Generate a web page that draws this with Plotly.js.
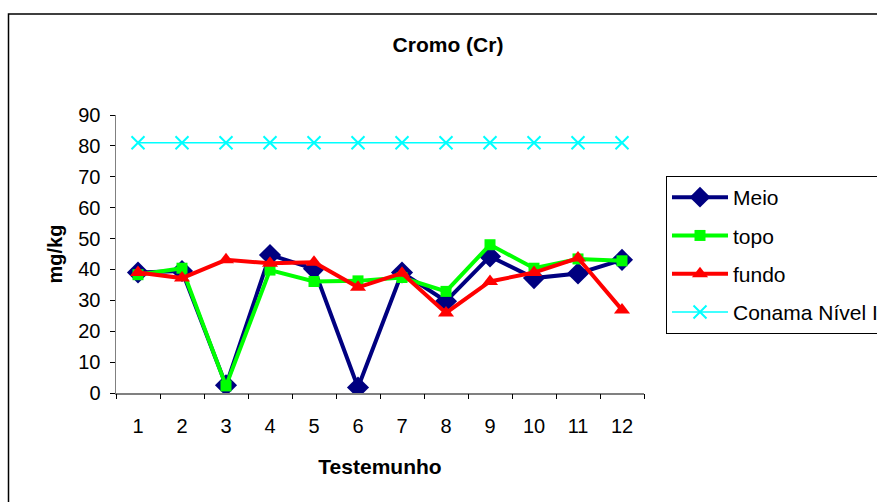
<!DOCTYPE html>
<html>
<head>
<meta charset="utf-8">
<script src="https://cdn.plot.ly/plotly-3.0.1.min.js"></script>
<style>html,body{margin:0;padding:0;background:#fff;}#chart{width:877px;height:502px;}</style>
</head>
<body>
<div id="chart"></div>
<script>
const categories = [1,2,3,4,5,6,7,8,9,10,11,12];
const meio   = [39, 39.5, 2.5, 44.7, 40.2, 1.8, 39, 29.7, 44.2, 37.2, 38.7, 43.1];
const topo   = [38.3, 40.4, 2.3, 39.8, 36.1, 36.3, 37.4, 32.9, 48, 40.4, 43.4, 42.8];
const fundo  = [39, 37.2, 43.1, 42, 42.3, 34.2, 38.8, 25.9, 36.1, 39, 43.7, 26.9];
const conama = [81, 81, 81, 81, 81, 81, 81, 81, 81, 81, 81, 81];
const yTicks = [0,10,20,30,40,50,60,70,80,90];

const L = 116, R = 644, T = 115, B = 393, W = 877, H = 502;
const pw = R - L, ph = B - T;

const traces = [
  {x: categories, y: meio, name: 'Meio', type: 'scatter', mode: 'lines+markers', legendgroup: 'a',
   line: {color: '#000080', width: 4}, marker: {symbol: 'diamond', size: 17, color: '#000080'}},
  {x: categories, y: topo, name: 'topo', type: 'scatter', mode: 'lines+markers', legendgroup: 'b',
   line: {color: '#00FF00', width: 4}, marker: {symbol: 'square', size: 11, color: '#00FF00'}},
  {x: categories, y: fundo, name: 'fundo', type: 'scatter', mode: 'lines+markers', legendgroup: 'c',
   line: {color: '#FF0000', width: 4}, marker: {symbol: 'triangle-up', size: 14, color: '#FF0000'}},
  {x: categories, y: conama, name: 'Conama Nível I', type: 'scatter', mode: 'lines+markers', legendgroup: 'd',
   line: {color: '#00FFFF', width: 1.5}, marker: {symbol: 'x-thin-open', size: 13, color: '#00FFFF', line: {color: '#00FFFF', width: 2}}}
];

const layout = {
  width: W, height: H,
  margin: {l: L, r: W - R, t: T, b: H - B, pad: 0, autoexpand: false},
  paper_bgcolor: '#fff', plot_bgcolor: '#fff',
  font: {family: 'Liberation Sans, Arial, sans-serif', size: 20, color: '#000'},
  title: {text: '<b>Cromo (Cr)</b>', font: {size: 21}, xref: 'container', yref: 'container',
          x: 448 / W, xanchor: 'center', y: 1 - 45 / H, yanchor: 'middle'},
  xaxis: {
    type: 'linear', range: [0.5, 12.5], tickvals: categories, ticktext: categories.map(String),
    showgrid: false, zeroline: false, showline: true, linecolor: '#808080', linewidth: 1.5,
    ticks: '', tickfont: {size: 20}, ticklabelstandoff: 14, automargin: false,
    title: {text: '<b>Testemunho</b>', font: {size: 21}, standoff: 24}
  },
  xaxis2: {
    overlaying: 'x', type: 'linear', range: [0.5, 12.5], tickvals: [0.5,1.5,2.5,3.5,4.5,5.5,6.5,7.5,8.5,9.5,10.5,11.5,12.5],
    ticks: 'outside', ticklen: 5, tickcolor: '#000', tickwidth: 1, showticklabels: false,
    showgrid: false, zeroline: false, showline: false, anchor: 'y', side: 'bottom', automargin: false
  },
  yaxis: {
    range: [0, 90], tickvals: yTicks, showgrid: false, zeroline: false, showline: true,
    linecolor: '#808080', linewidth: 1.5, ticks: 'outside', ticklen: 5, tickcolor: '#000',
    tickfont: {size: 20}, ticklabelstandoff: 5, automargin: false,
    title: {text: '<b>mg/kg</b>', font: {size: 20}, standoff: 10}
  },
  legend: {
    x: (666 - L) / pw, y: (B - 176) / ph, xanchor: 'left', yanchor: 'top',
    bordercolor: '#000', borderwidth: 1, bgcolor: '#fff',
    font: {size: 21}, itemwidth: 56, tracegroupgap: 8, traceorder: 'grouped'
  },
  shapes: [{
    type: 'rect', xref: 'paper', yref: 'paper',
    x0: (8.5 - L) / pw, x1: (W + 20 - L) / pw,
    y0: (B - (H + 20)) / ph, y1: (B - 14) / ph,
    line: {color: '#000', width: 1.5}, fillcolor: 'rgba(0,0,0,0)', layer: 'below'
  }],
  showlegend: true
};

traces.push({x: [1], y: [null], xaxis: 'x2', yaxis: 'y', showlegend: false, hoverinfo: 'skip', type: 'scatter', mode: 'markers'});

Plotly.newPlot('chart', traces, layout, {displayModeBar: false, staticPlot: true});
</script>
</body>
</html>
